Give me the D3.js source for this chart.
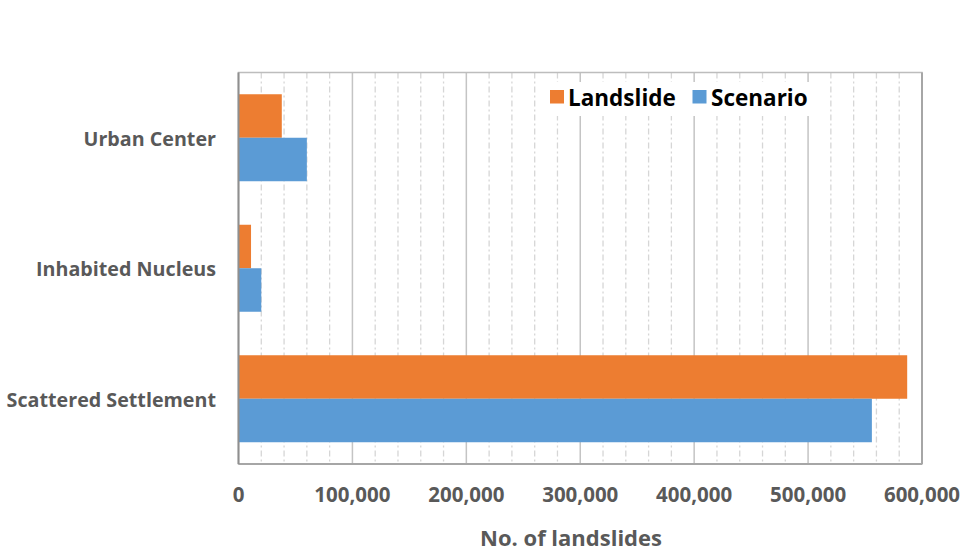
<!DOCTYPE html>
<html>
<head>
<meta charset="utf-8">
<script src="https://cdn.jsdelivr.net/npm/d3@7"></script>
<style>
  html, body { margin: 0; padding: 0; background: #fff; }
  svg { display: block; font-family: "Open Sans", "DejaVu Sans", sans-serif; }
</style>
</head>
<body>
<svg id="chart" width="965" height="554"></svg>
<script>
// Settlement types, top to bottom
const categories = ["Urban Center", "Inhabited Nucleus", "Scattered Settlement"];
// Number of landslides per settlement type
const landslideValues = [38000, 11000, 587000];
const scenarioValues = [60000, 20000, 556000];
const seriesNames = ["Landslide", "Scenario"];
const seriesColors = ["#ED7D31", "#5B9BD5"];
const majorTicks = [0, 100000, 200000, 300000, 400000, 500000, 600000];
const axisTitle = "No. of landslides";

const svg = d3.select("#chart");
const plot = { left: 238.5, right: 922, top: 72.5, bottom: 464 };

const x = d3.scaleLinear().domain([0, 600000]).range([plot.left, plot.right]);
const y = d3.scaleBand().domain(categories).range([plot.top, plot.bottom])
  .paddingInner(1 / 3).paddingOuter(1 / 6);
const ySub = d3.scaleBand().domain(seriesNames).range([0, y.bandwidth()]);

// Minor gridlines every 20,000
const minorTicks = d3.range(20000, 600000, 20000).filter(v => v % 100000 !== 0);
svg.append("g").selectAll("line").data(minorTicks).join("line")
  .attr("x1", d => x(d)).attr("x2", d => x(d))
  .attr("y1", plot.top).attr("y2", plot.bottom)
  .attr("stroke", "#d6d6d6").attr("stroke-width", 1.3)
  .attr("stroke-dasharray", "6,3,2,3");

// Major gridlines
svg.append("g").selectAll("line").data(majorTicks.slice(1, -1)).join("line")
  .attr("x1", d => x(d)).attr("x2", d => x(d))
  .attr("y1", plot.top).attr("y2", plot.bottom)
  .attr("stroke", "#c4c4c4").attr("stroke-width", 1.5);

// Plot frame
svg.append("rect")
  .attr("x", plot.left).attr("y", plot.top)
  .attr("width", plot.right - plot.left).attr("height", plot.bottom - plot.top)
  .attr("fill", "none").attr("stroke", "#bdbdbd").attr("stroke-width", 1.5);
svg.append("line")
  .attr("x1", plot.left).attr("x2", plot.right)
  .attr("y1", plot.bottom).attr("y2", plot.bottom)
  .attr("stroke", "#a6a6a6").attr("stroke-width", 2);
svg.append("line")
  .attr("x1", plot.right).attr("x2", plot.right)
  .attr("y1", plot.top).attr("y2", plot.bottom)
  .attr("stroke", "#a6a6a6").attr("stroke-width", 2);

// Legend box (white background over the gridlines)
const legend = svg.append("g");
legend.append("rect")
  .attr("x", 544).attr("y", 82).attr("width", 280).attr("height", 34)
  .attr("fill", "#fff");
const legendItems = [
  { name: seriesNames[0], color: seriesColors[0], sx: 550, tx: 568 },
  { name: seriesNames[1], color: seriesColors[1], sx: 692.5, tx: 711 }
];
legendItems.forEach(it => {
  legend.append("rect").attr("x", it.sx).attr("y", 90)
    .attr("width", 14).attr("height", 13.5).attr("fill", it.color);
  legend.append("text").attr("x", it.tx).attr("y", 106)
    .attr("font-size", 22.5).attr("font-weight", 700).attr("fill", "#000")
    .text(it.name);
});

// Bars
const rows = categories.map((c, i) => ({
  category: c,
  values: [
    { series: seriesNames[0], value: landslideValues[i], color: seriesColors[0] },
    { series: seriesNames[1], value: scenarioValues[i], color: seriesColors[1] }
  ]
}));
svg.append("g").selectAll("g").data(rows).join("g")
  .attr("transform", d => `translate(0,${y(d.category)})`)
  .selectAll("rect").data(d => d.values).join("rect")
  .attr("x", x(0))
  .attr("y", d => ySub(d.series))
  .attr("width", d => x(d.value) - x(0))
  .attr("height", ySub.bandwidth())
  .attr("fill", d => d.color);

// Left axis line
svg.append("line")
  .attr("x1", plot.left).attr("x2", plot.left)
  .attr("y1", plot.top).attr("y2", plot.bottom)
  .attr("stroke", "#8f8f8f").attr("stroke-width", 2);

// Category labels
svg.append("g").selectAll("text").data(categories).join("text")
  .attr("x", 216)
  .attr("y", d => y(d) + y.bandwidth() / 2 + 8)
  .attr("text-anchor", "end")
  .attr("font-size", 19.7).attr("font-weight", 700).attr("fill", "#595959")
  .text(d => d);

// Bottom axis tick labels
const fmt = d3.format(",");
svg.append("g").selectAll("text").data(majorTicks).join("text")
  .attr("x", d => x(d))
  .attr("y", 502)
  .attr("text-anchor", "middle")
  .attr("font-size", 20.5).attr("font-weight", 700).attr("fill", "#595959")
  .text(d => fmt(d));

// Axis title
svg.append("text")
  .attr("x", 571).attr("y", 546)
  .attr("text-anchor", "middle")
  .attr("font-size", 22).attr("font-weight", 700).attr("fill", "#595959")
  .text(axisTitle);
</script>
</body>
</html>
